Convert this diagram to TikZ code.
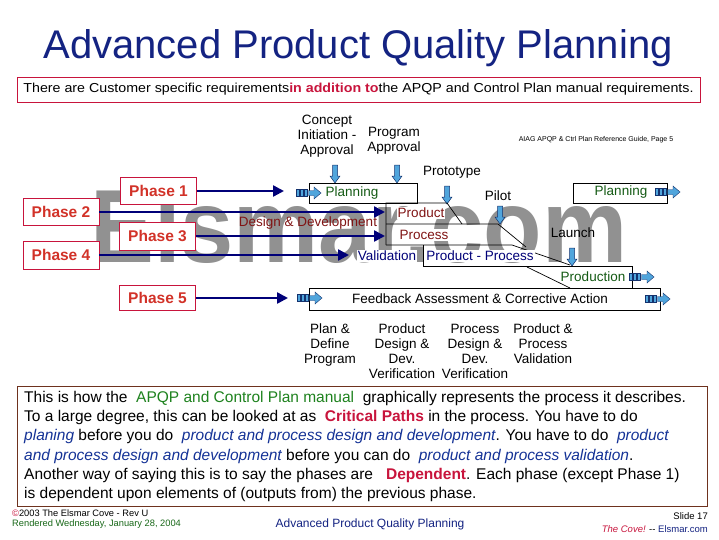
\documentclass[tikz,border=0pt]{standalone}
\usepackage{fontspec}
\setmainfont{Liberation Sans}
\usetikzlibrary{arrows.meta}

\definecolor{titlenavy}{RGB}{20,35,130}
\definecolor{arrownavy}{RGB}{0,0,120}
\definecolor{crimson}{RGB}{200,20,60}
\definecolor{phasered}{RGB}{210,50,40}
\definecolor{barred}{RGB}{128,20,20}
\definecolor{bargreen}{RGB}{20,90,20}
\definecolor{textgreen}{RGB}{30,130,30}
\definecolor{textblue}{RGB}{20,50,150}
\definecolor{iconblue}{RGB}{80,165,220}
\definecolor{icondark}{RGB}{20,50,110}
\definecolor{markgray}{RGB}{145,145,145}
\definecolor{framebrown}{RGB}{110,50,30}

\tikzset{
  phasebox/.style={draw=crimson,fill=white,line width=0.7pt,inner sep=0,
    minimum width=76,minimum height=27,text=phasered,
    font=\fontsize{15.5}{17}\selectfont\bfseries},
  phasearrow/.style={arrownavy,line width=2.4pt,-{Triangle[length=11pt,width=11pt]}},
  barline/.style={black,line width=0.7pt},
  mslabel/.style={font=\fontsize{13.5}{15}\selectfont,align=center,inner sep=0},
  bartext/.style={font=\fontsize{13.5}{15}\selectfont,inner sep=1pt},
  flowicon/.pic={
    \foreach \k in {0,1,2}
      \draw[icondark,fill=iconblue,line width=0.4pt] (\k*4,-3.5) rectangle ++(3.5,7);
    \draw[icondark,fill=iconblue,line width=0.4pt]
      (12.5,-2.5) -- (18,-2.5) -- (18,-6) -- (25,0) -- (18,6) -- (18,2.5) -- (12.5,2.5) -- cycle;
  },
  milestone/.pic={
    \draw[icondark,fill=iconblue,line width=0.5pt]
      (-2.5,-18) -- (2.5,-18) -- (2.5,-7) -- (5,-7) -- (0,0) -- (-5,-7) -- (-2.5,-7) -- cycle;
  }
}

\begin{document}
\begin{tikzpicture}[x=1pt,y=-1pt]
  \useasboundingbox (0,0) rectangle (719,539);
  \fill[white] (0,0) rectangle (719,539);

  % watermark
  \node[anchor=base west,inner sep=0,text=markgray,font=\fontsize{104}{104}\selectfont\bfseries]
    (mark) at (90,262) {\scalebox{0.92}[1]{Elsmar.com}};

  % title and note
  \node[anchor=base,inner sep=0,text=titlenavy,font=\fontsize{40}{44}\selectfont] (title) at (358,58)
    {Advanced Product Quality Planning};
  \node[draw=crimson,line width=0.7pt,minimum width=683,minimum height=25,inner sep=0,
    font=\fontsize{13}{15}\selectfont] (note) at (358.5,89.5)
    {\scalebox{1.095}[1]{There are Customer specific requirements{\color{crimson}\bfseries in addition to}the APQP and Control Plan manual requirements.}};

  % milestones
  \node[mslabel] (concept) at (327,136) {Concept\\Initiation -\\Approval};
  \node[mslabel] (program) at (394,140.5) {Program\\Approval};
  \node[mslabel] (proto) at (452,172) {Prototype};
  \node[mslabel] (pilot) at (498,196) {Pilot};
  \node[mslabel] (launch) at (573,233) {Launch};
  \node[inner sep=0,font=\fontsize{7}{8}\selectfont] (aiag) at (596,140)
    {AIAG APQP \& Ctrl Plan Reference Guide, Page 5};
  \pic at (335,183) {milestone};
  \pic at (397,183) {milestone};
  \pic at (447,204) {milestone};
  \pic at (500,224) {milestone};
  \pic at (572,266) {milestone};

  % bars
  \draw[barline] (309,183) rectangle (417,203);
  \draw[barline] (386,245) -- (386,203) -- (447,203) -- (462,224);
  \draw[barline] (386,224) -- (498,224) -- (526,247);
  \draw[barline] (386,245) -- (512,245) -- (570,265);
  \draw[barline] (423,245) -- (423,266) -- (632,266) -- (632,288);
  \draw[barline] (527,267) -- (570,288);
  \draw[barline] (309,288) rectangle (660,310);
  \draw[barline] (573,183) rectangle (667,203);
  \node[bartext,text=bargreen] (plan) at (352,193) {Planning};
  \node[bartext,text=barred,fill=white] (product) at (421,213) {Product};
  \node[bartext,text=barred,fill=white] (process) at (424,235) {Process};
  \node[bartext,text=arrownavy,fill=white] (prodproc) at (480,256) {Product - Process};
  \node[bartext,text=bargreen] (production) at (593,277) {Production};
  \node[bartext] (feedback) at (480,299) {Feedback Assessment \& Corrective Action};
  \node[bartext,text=bargreen] (plannext) at (621,192) {Planning};
  \node[bartext,text=barred] (design) at (308,223) {Design \& Development};
  \node[bartext,text=arrownavy,fill=white] (valid) at (387,256) {Validation};
  \pic at (296,193) {flowicon};
  \pic at (297,298) {flowicon};
  \pic at (655,192) {flowicon};
  \pic at (629,277) {flowicon};
  \pic at (645,299) {flowicon};

  % phases
  \node[phasebox] (ph1) at (158.5,191) {Phase 1};
  \node[phasebox] (ph2) at (61,212) {Phase 2};
  \node[phasebox,minimum height=28] (ph3) at (157.5,236) {Phase 3};
  \node[phasebox,minimum height=28] (ph4) at (61,255) {Phase 4};
  \node[phasebox,minimum height=25] (ph5) at (157.5,298) {Phase 5};
  \coordinate (ph1end) at (284,191);
  \coordinate (ph2end) at (385,212);
  \coordinate (ph3end) at (385,236);
  \coordinate (ph4end) at (349,255);
  \coordinate (ph5end) at (288,298);
  \draw[phasearrow] (ph1.east) -- (ph1end);
  \draw[phasearrow] (ph2.east) -- (ph2end);
  \draw[phasearrow] (ph3.east) -- (ph3end);
  \draw[phasearrow] (ph4.east) -- (ph4end);
  \draw[phasearrow] (ph5.east) -- (ph5end);

  % phase names under the bars
  \node[mslabel,anchor=north] (name1) at (330,324) {Plan \&\\Define\\Program};
  \node[mslabel,anchor=north] (name2) at (402,324) {Product\\Design \&\\Dev.\\Verification};
  \node[mslabel,anchor=north] (name3) at (475,324) {Process\\Design \&\\Dev.\\Verification};
  \node[mslabel,anchor=north] (name4) at (543,324) {Product \&\\Process\\Validation};

  % explanation
  \draw[framebrown,line width=0.8pt] (17,386) rectangle (707,506);
  \node[anchor=north west,align=left,inner sep=0,font=\fontsize{15.5}{19.2}\selectfont] (para) at (24,391)
    {This is how the \ {\color{textgreen}APQP and Control Plan manual}\ \ graphically represents the process it describes.\\
     To a large degree, this can be looked at as \ {\color{crimson}\bfseries Critical Paths} in the process. You have to do\\
     {\color{textblue}\itshape planing} before you do \ {\color{textblue}\itshape product and process design and development}. You have to do \ {\color{textblue}\itshape product}\\
     {\color{textblue}\itshape and process design and development} before you can do \ {\color{textblue}\itshape product and process validation}.\\
     Another way of saying this is to say the phases are \ \ {\color{crimson}\bfseries Dependent}. Each phase (except Phase 1)\\
     is dependent upon elements of (outputs from) the previous phase.};

  % footer
  \node[anchor=west,inner sep=0,font=\fontsize{9.3}{10}\selectfont] (copy) at (12,513)
    {{\color{crimson}©}2003 The Elsmar Cove - Rev U};
  \node[anchor=west,inner sep=0,text=textgreen!80!black,font=\fontsize{9.3}{10}\selectfont] (rendered) at (12,524)
    {Rendered Wednesday, January 28, 2004};
  \node[inner sep=0,text=titlenavy,font=\fontsize{12}{14}\selectfont] (foottitle) at (370,524)
    {Advanced Product Quality Planning};
  \node[anchor=east,inner sep=0,font=\fontsize{9.5}{11}\selectfont] (slide) at (708,516) {Slide 17};
  \node[anchor=east,inner sep=0,font=\fontsize{9.5}{11}\selectfont] (cove) at (708,529)
    {{\color{crimson}\itshape The Cove!} -{}- {\color{titlenavy}Elsmar.com}};
\end{tikzpicture}
\end{document}
